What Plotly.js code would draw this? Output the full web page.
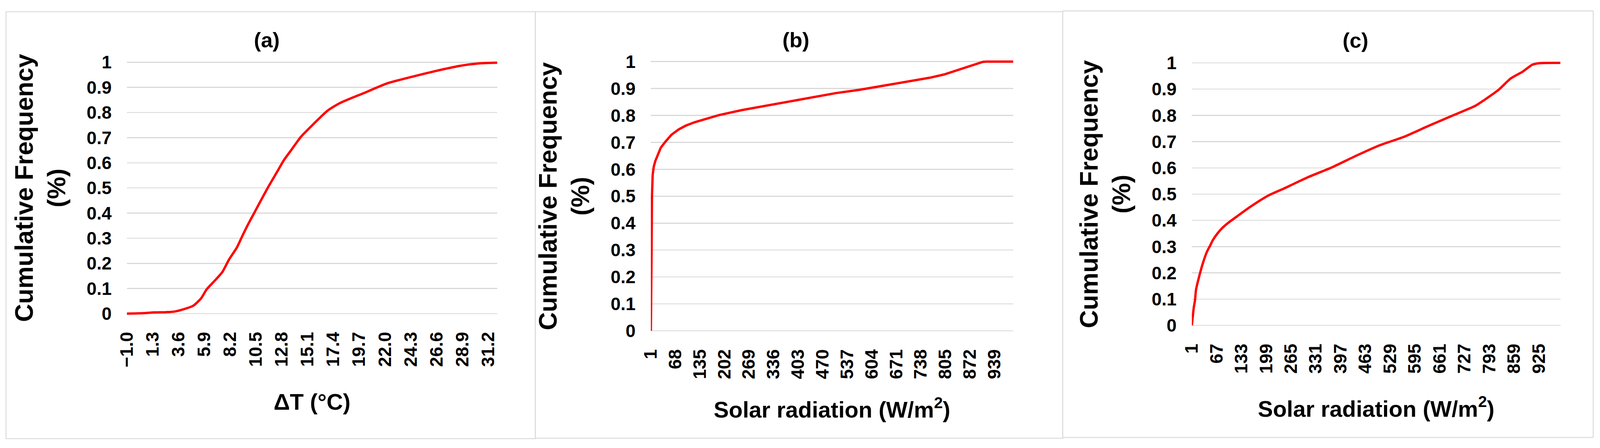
<!DOCTYPE html>
<html>
<head>
<meta charset="utf-8">
<script src="https://cdn.plot.ly/plotly-3.0.1.min.js"></script>
<style>
  html, body { margin: 0; padding: 0; background: #fff; overflow: hidden; }
</style>
</head>
<body>
<div id="myDiv"></div>
<script>
// (a) cumulative frequency of delta T
var dtX = [-1.0, 0.5, 1.5, 2.5, 3.2, 4.1, 4.9, 5.6, 6.1, 6.85, 7.5, 8.1, 8.8, 9.3, 9.8, 10.4,
           11.0, 11.65, 12.4, 13.0, 13.7, 14.5, 15.6, 16.9, 18.0, 20.1, 22.2, 24.4, 26.5, 28.6, 30.3, 32.0];
var dtY = [0, 0.002, 0.005, 0.006, 0.008, 0.018, 0.031, 0.06, 0.096, 0.132, 0.165, 0.215, 0.263, 0.31, 0.355, 0.405,
           0.455, 0.508, 0.565, 0.611, 0.654, 0.703, 0.753, 0.808, 0.838, 0.877, 0.916, 0.942, 0.965, 0.985, 0.995, 0.998];
var dtTickVals = [-1.0, 1.3, 3.6, 5.9, 8.2, 10.5, 12.8, 15.1, 17.4, 19.7, 22.0, 24.3, 26.6, 28.9, 31.2];
var dtTickText = ['\u22121.0', '1.3', '3.6', '5.9', '8.2', '10.5', '12.8', '15.1', '17.4', '19.7', '22.0', '24.3', '26.6', '28.9', '31.2'];

// (b) cumulative frequency of solar radiation
var srbX = [1, 2, 3, 4, 6, 9, 13, 19, 28, 41, 57, 77, 96, 121, 150, 186, 250, 314, 378, 442,
            506, 570, 634, 698, 762, 801, 840, 878, 907, 916, 990];
var srbY = [0, 0.1, 0.3, 0.5, 0.58, 0.61, 0.63, 0.65, 0.68, 0.703, 0.728, 0.748, 0.762, 0.775, 0.787, 0.801, 0.82, 0.836, 0.851, 0.868,
            0.883, 0.895, 0.91, 0.925, 0.94, 0.952, 0.969, 0.987, 0.999, 1, 1];
var srbTickVals = [1, 68, 135, 202, 269, 336, 403, 470, 537, 604, 671, 738, 805, 872, 939];

// (c) cumulative frequency of solar radiation
var srcX = [1, 6, 9.4, 12, 22, 31, 41, 50, 57, 69, 82, 100, 120, 158, 205, 247, 311, 374, 438,
            501, 565, 628, 691, 755, 787, 818, 850, 882, 907, 926, 982];
var srcY = [0, 0.067, 0.096, 0.135, 0.195, 0.24, 0.28, 0.305, 0.325, 0.35, 0.371, 0.393, 0.414, 0.453, 0.495, 0.522, 0.565, 0.602, 0.646,
            0.686, 0.718, 0.758, 0.797, 0.836, 0.866, 0.898, 0.941, 0.967, 0.993, 0.999, 1];
var srcTickVals = [1, 67, 133, 199, 265, 331, 397, 463, 529, 595, 661, 727, 793, 859, 925];

var yTickVals = [0, 0.1, 0.2, 0.3, 0.4, 0.5, 0.6, 0.7, 0.8, 0.9, 1];
var yTickText = ['0', '0.1', '0.2', '0.3', '0.4', '0.5', '0.6', '0.7', '0.8', '0.9', '1'];

var panelLetters = ['(a)', '(b)', '(c)'];
var xTitles = ['\u0394T (\u00b0C)', 'Solar radiation (W/m<sup>2</sup>)', 'Solar radiation (W/m<sup>2</sup>)'];
var yTitle = 'Cumulative Frequency<br>(%)';

// reference is 4259 wide; the window may be narrower, so lay out in fractions
var REF_W = 4259, H = 1147;
var W = Math.min(window.innerWidth || REF_W, REF_W);
var sx = W / REF_W;
function px(p) { return p / REF_W; }
function py(p) { return (H - p) / H; }

var FONT = 'Liberation Sans, Arial, sans-serif';
var red = '#ff0000';

function lineTrace(x, y, n, smooth) {
  return {
    x: x, y: y, type: 'scatter', mode: 'lines',
    line: { color: red, width: 6, shape: smooth ? 'spline' : 'linear', smoothing: smooth || 0 },
    xaxis: 'x' + (n > 1 ? n : ''), yaxis: 'y' + (n > 1 ? n : ''),
    hoverinfo: 'x+y'
  };
}

function makeX(left, right, range, vals, text, title, standoff, anchor) {
  return {
    domain: [px(left), px(right)], range: range, anchor: anchor,
    tickmode: 'array', tickvals: vals, ticktext: text,
    tickangle: -90, ticks: '', ticklabelstandoff: 30,
    tickfont: { size: 46, family: FONT, weight: 'bold', color: '#000' },
    showgrid: false, zeroline: false, showline: false,
    title: { text: title, standoff: standoff, font: { size: 58, family: FONT, weight: 'bold', color: '#000' } }
  };
}

// y axes get a small pad so the line at 1 is not cut
function makeY(zeroPx, onePx, anchor) {
  var pad = (zeroPx - onePx) * 0.01;
  return {
    domain: [py(zeroPx + pad), py(onePx - pad)], range: [-0.01, 1.01], anchor: anchor,
    tickmode: 'array', tickvals: yTickVals, ticktext: yTickText,
    ticks: '', ticklabelstandoff: Math.round(40 * sx),
    tickfont: { size: 46, family: FONT, weight: 'bold', color: '#000' },
    showgrid: true, gridcolor: '#d9d9d9', gridwidth: 2.5,
    zeroline: false, showline: false,
    title: { text: yTitle, standoff: Math.round(34 * sx), font: { size: 64, family: FONT, weight: 'bold', color: '#000' } }
  };
}

var data = [
  lineTrace(dtX, dtY, 1, 0.6),
  lineTrace(srbX, srbY, 2, 0),
  lineTrace(srcX, srcY, 3, 0.6)
];

var panels = [[16, 30, 1425, 1123], [1425, 30, 2829, 1122], [2829, 28, 4241, 1120]];
var letterPos = [[710, 102], [2119, 102], [3608, 103]];

var shapes = panels.map(function (p) {
  return {
    type: 'rect', xref: 'paper', yref: 'paper',
    x0: px(p[0]), x1: px(p[2]), y0: py(p[3]), y1: py(p[1]),
    line: { color: '#dcdcdc', width: 2.5 }, fillcolor: 'rgba(0,0,0,0)', layer: 'below'
  };
});

var annotations = panelLetters.map(function (t, i) {
  return {
    text: t, xref: 'paper', yref: 'paper',
    x: px(letterPos[i][0]), y: py(letterPos[i][1]),
    xanchor: 'center', yanchor: 'middle', showarrow: false,
    font: { size: 54, family: FONT, weight: 'bold', color: '#000' }
  };
});

var layout = {
  width: W, height: H,
  margin: { l: 0, r: 0, t: 0, b: 0 },
  paper_bgcolor: '#fff', plot_bgcolor: '#fff',
  showlegend: false,
  font: { family: FONT, color: '#000' },
  xaxis: makeX(337.7, 1323.6, [-1.0, 32.0], dtTickVals, dtTickText, xTitles[0], 68, 'y'),
  yaxis: makeY(803, 159.3, 'x'),
  xaxis2: makeX(1732.5, 2697, [1, 990], srbTickVals, srbTickVals.map(String), xTitles[1], 58, 'y2'),
  yaxis2: makeY(847, 157.7, 'x2'),
  xaxis3: makeX(3172.6, 4153.6, [1, 982], srcTickVals, srcTickVals.map(String), xTitles[2], 70, 'y3'),
  yaxis3: makeY(833, 161, 'x3'),
  shapes: shapes,
  annotations: annotations
};

Plotly.newPlot('myDiv', data, layout, { staticPlot: true });
</script>
</body>
</html>
